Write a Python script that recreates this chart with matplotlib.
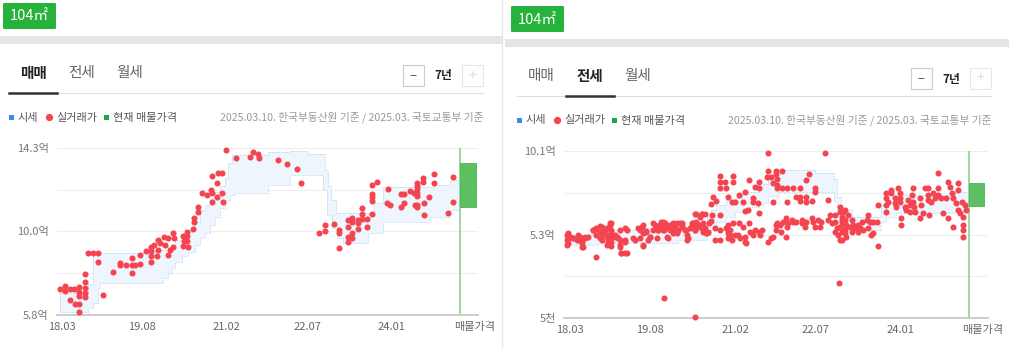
import matplotlib.pyplot as plt
from matplotlib.patches import Rectangle, FancyBboxPatch
from matplotlib.lines import Line2D

plt.rcParams['font.family'] = ['Noto Sans CJK KR', 'DejaVu Sans']

# ---- data (x = months after 2018.03, values in 억) ----
tick_months = [0, 17, 35, 52, 70]
tick_labels = ['18.03', '19.08', '21.02', '22.07', '24.01']
listing_month = 84.5

# 매매
sale_levels = [5.8, 7.925, 10.05, 12.175, 14.3]
sale_level_labels = ['5.8억', '', '10.0억', '', '14.3억']
sale_band_m = [-0.4, 5.5, 6.6, 7.6, 8.1, 19.7, 21.4, 21.8, 22.5, 23.3, 24.0, 25.5, 26.7, 28.2,
               29.3, 30.3, 31.4, 32.5, 33.5, 34.6, 35.2, 35.6, 36.1, 36.7, 43.7, 48.4, 52.2,
               55.4, 55.8, 56.2, 56.4, 57.1, 57.3, 58.1, 58.3, 59.6, 64.9, 66.2, 68.1, 78.1,
               78.7, 82.3, 84.2]
sale_band_hi = [6.92, 7.38, 8.96, 8.96, 8.96, 9.11, 9.11, 9.26, 9.26, 9.26, 9.62, 9.82, 10.13,
                10.53, 11.14, 11.40, 11.75, 12.06, 12.36, 12.77, 13.54, 13.54, 13.94, 13.94,
                14.10, 14.16, 13.99, 13.99, 13.18, 13.18, 12.36, 11.65, 11.65, 10.99, 10.99,
                10.99, 10.99, 11.50, 12.31, 12.31, 12.42, 12.67, 12.67]
sale_band_lo = [5.97, 6.16, 6.41, 7.17, 7.44, 7.44, 7.68, 7.68, 7.94, 8.19, 8.50, 8.80, 9.01,
                9.36, 9.72, 9.97, 10.38, 10.79, 11.25, 11.65, 11.65, 11.91, 11.91, 11.99,
                12.42, 12.92, 12.92, 12.16, 12.16, 10.89, 10.89, 10.89, 10.23, 10.23, 9.72,
                9.46, 9.97, 9.97, 10.53, 10.79, 10.79, 11.14, 11.14]
sale_deal_m = [-0.4, 0.6, 0.6, 1.7, 2.5, 3.6, 3.6, 3.6, 4.9, 4.9, 4.9, 4.9, 4.9, 1.7, 2.8, 3.7,
               3.6, 5.6, 6.6, 7.7, 7.7, 8.6, 10.8, 12.4, 12.4, 13.6, 14.8, 14.8, 14.8, 15.5,
               16.5, 16.5, 17.8, 18.8, 18.8, 18.8, 18.8, 19.5, 20.1, 20.4, 20.4, 20.8, 21.6,
               21.8, 22.5, 22.5, 22.9, 23.6, 23.5, 23.8, 25.7, 25.9, 25.7, 26.5, 26.6, 26.6,
               26.8, 27.7, 27.9, 27.9, 28.8, 28.8, 29.8, 30.7, 31.6, 31.8, 31.8, 32.8, 32.9,
               33.2, 33.9, 31.8, 33.9, 34.1, 34.8, 36.9, 39.9, 40.6, 41.6, 41.8, 45.8, 47.8,
               49.8, 50.8, 54.6, 55.8, 55.8, 57.8, 58.8, 58.8, 58.8, 60.7, 60.7, 60.7, 60.7,
               61.6, 61.6, 61.6, 61.6, 62.7, 62.7, 62.7, 63.7, 63.7, 63.7, 64.8, 64.8, 65.7,
               65.7, 65.7, 65.7, 65.7, 66.8, 69.1, 68.9, 69.6, 71.9, 72.6, 71.9, 72.6, 73.8,
               74.7, 75.4, 75.4, 75.4, 75.4, 75.4, 75.4, 75.4, 74.9, 76.6, 76.6, 76.9, 76.9,
               77.9, 79.0, 79.0, 81.9, 83.0, 83.0]
sale_deal_v = [7.14, 7.28, 7.01, 7.14, 7.14, 7.21, 6.97, 6.77, 7.17, 6.93, 6.73, 7.48, 7.89,
               6.56, 6.36, 6.36, 5.97, 8.94, 8.97, 8.97, 8.50, 6.82, 8.00, 8.46, 8.34, 8.34,
               8.68, 8.34, 7.95, 8.34, 8.40, 8.85, 9.07, 9.28, 9.07, 8.80, 8.48, 9.36, 8.80,
               9.62, 9.11, 9.45, 9.78, 9.36, 9.70, 8.85, 9.11, 9.25, 9.96, 9.70, 9.82, 9.58,
               9.31, 10.04, 9.82, 9.58, 9.28, 10.16, 10.72, 10.55, 11.28, 11.06, 11.99, 11.91,
               12.16, 11.99, 11.57, 11.82, 12.50, 13.01, 13.04, 12.87, 11.99, 11.57, 14.20,
               13.77, 13.83, 14.08, 13.99, 13.77, 13.69, 13.48, 13.23, 12.50, 9.99, 10.38,
               10.09, 10.43, 10.13, 9.96, 9.19, 10.63, 10.29, 9.78, 9.53, 10.72, 10.55, 9.99,
               9.70, 10.63, 10.47, 10.16, 11.23, 10.94, 10.67, 10.67, 10.29, 12.42, 11.96,
               11.79, 11.62, 10.94, 12.58, 12.20, 11.48, 11.38, 11.96, 11.96, 11.31, 11.48,
               12.13, 11.99, 12.53, 12.36, 12.20, 12.02, 11.86, 11.40, 11.31, 11.40, 12.76,
               12.58, 11.48, 10.89, 11.82, 13.00, 12.50, 11.01, 12.84, 11.53]
sale_listing = (11.30, 13.54)

# 전세
rent_levels = [0.5, 2.9, 5.3, 7.7, 10.1]
rent_level_labels = ['5천', '', '5.3억', '', '10.1억']
rent_band_m = [-0.5, 4, 6, 16, 23, 27, 29, 30, 31, 33, 35, 36.5, 38, 40, 41, 42, 44, 52, 56,
               56.5, 57.5, 59.7, 66, 67, 69, 81.6, 84.2]
rent_band_hi = [5.14, 5.35, 5.56, 5.65, 5.65, 5.84, 6.3, 6.7, 7.0, 7.28, 7.4, 7.6, 7.75, 7.94,
                8.2, 8.7, 8.99, 8.80, 8.5, 7.47, 6.7, 6.28, 7.0, 7.18, 7.56, 7.75, 7.75]
rent_band_lo = [4.70, 4.70, 4.79, 4.79, 4.98, 4.98, 5.3, 5.6, 6.0, 6.3, 6.6, 6.7, 6.85, 6.99,
                7.1, 7.5, 7.75, 7.75, 7.2, 6.5, 5.94, 5.56, 6.03, 6.32, 6.51, 6.70, 6.70]
rent_deal_m = [
    -0.5, -0.5, -0.5, 0, 0.7, 1.4, 2.1, 2.5, 3.2, 2.8, 3.9, 4.9, 5.6, 5.6, 6.4, 6.7, 6.7, 6.7,
    7.4, 7.8, 8.1, 8.5, 8.7, 8.8, 9.5, 10.2, 10.6, 10.6, 10.8, 11.7, 11.7, 12.0, 14.8, 15.2,
    15.5, 15.5, 16.2, 16.6, 16.9, 17.7, 18.0, 18.7, 19.1, 19.4, 19.8, 19.8, 20.1, 20.5, 20.8,
    21.2, 21.9, 22.2, 22.6, 23.0, 23.3, 23.7, 24.4, 24.9, 24.9, 25.4, 25.8, 26.1, 26.6, 26.6,
    27.2, 27.9, 27.9, 28.2, 28.6, 29.0, 29.3, 29.4, 20.0, 26.6,
    -0.6, -0.6, -0.6, 0, 0.7, 1.8, 1.8, 2.5, 2.5, 3.2, 4.9, 5.6, 5.6, 6.4, 6.4, 6.7, 7.8, 7.8,
    8.1, 8.5, 8.8, 8.8, 8.8, 8.8, 9.5, 9.9, 10.6, 10.6, 10.9, 11.7, 11.7, 12.0, 13.4, 13.8,
    14.5, 14.8, 15.4, 15.5, 16.2, 16.9, 17.7, 18.4, 18.7, 19.1, 19.8, 19.9, 20.5, 20.8, 21.2,
    21.9, 21.9, 22.6, 23.0, 23.7, 23.7, 24.7, 25.1, 25.8, 26.1, 26.5, 26.8, 26.8, 27.5, 27.9,
    28.2,
    31.8, 31.9, 32.8, 34.6, 34.6, 33.0, 31.9, 38.0, 39.2, 40.1, 40.1, 41.7, 42.0, 42.0, 42.7,
    43.1, 43.6, 43.6, 43.9, 43.9, 43.9, 45.0, 45.0, 46.0, 47.2, 48.7, 50.0, 50.7, 51.9, 51.9,
    54.0, 54.7,
    30.4, 30.9, 30.0, 28.6, 27.5, 30.2, 31.9, 33.5, 34.3, 35.0, 35.9, 36.7, 37.1, 37.1, 37.8,
    38.8, 38.9, 39.9, 40.1, 43.1, 46.0, 48.0, 48.7, 50.0, 48.7, 50.0, 51.2,
    27.5, 28.2, 28.8, 30.0, 30.7, 30.7, 31.8, 31.9, 33.0, 33.5, 33.5, 33.5, 33.5, 33.9, 34.0,
    34.3, 34.6, 35.0, 35.7, 35.9, 36.0, 36.7, 37.1, 37.1, 37.4, 38.0, 38.1, 38.8, 39.2, 40.1,
    40.3, 40.8, 42.0, 42.7, 43.1, 43.6, 43.6, 43.9, 44.5, 44.8, 45.2, 45.9, 45.9, 46.0, 46.3,
    47.0, 47.3, 48.0, 49.1, 49.1, 49.8, 50.1, 51.2, 51.5, 51.9, 52.6, 52.9, 53.3, 54.7, 55.1,
    55.6, 56.1, 56.1, 56.1, 56.5, 56.8, 57.2, 57.2, 57.6, 57.9, 57.9, 57.9, 58.3, 57.1,
    57.2, 57.2, 57.6, 57.6, 57.2, 57.6, 57.6, 58.3, 58.3, 58.3, 58.6, 58.6, 59.0, 59.3, 59.7,
    59.7, 60.0, 60.4, 61.1, 61.1, 61.4, 61.8, 62.1, 62.9, 63.2, 63.2, 63.6, 64.3, 64.3, 63.9,
    65.0, 65.3, 65.3,
    66.9, 66.9, 66.9, 66.9, 67.4, 68.1, 68.1, 68.9, 68.9, 69.2, 69.6, 69.9, 69.9, 69.9, 70.1,
    70.1, 71.0, 71.3, 71.7, 72.0, 72.0, 72.4, 72.7, 72.7, 72.9, 73.1, 74.1, 74.1, 74.5, 74.9,
    75.2, 75.9, 75.9, 75.9, 76.1, 76.6, 77.0, 77.3, 78.0, 78.0, 78.0, 78.7, 79.1, 79.8, 80.1,
    80.1, 80.5, 80.9, 81.2, 81.2, 81.9, 82.3, 82.3, 82.3, 82.6, 83.0, 83.2, 83.3, 83.3, 83.3,
    83.7, 84.0]
rent_deal_v = [
    5.37, 5.08, 4.79, 5.18, 5.08, 4.98, 5.18, 4.79, 5.08, 4.60, 5.18, 5.56, 5.59, 3.99, 5.08,
    5.75, 5.37, 5.08, 5.56, 4.70, 5.08, 5.84, 5.94, 5.56, 5.27, 5.08, 5.56, 4.70, 4.22, 4.22,
    4.98, 5.56, 5.56, 5.75, 5.37, 4.70, 5.46, 4.98, 5.18, 5.56, 5.84, 5.56, 5.84, 6.03, 5.84,
    5.56, 5.94, 5.18, 5.75, 5.56, 5.37, 5.75, 5.94, 5.56, 5.94, 5.84, 5.56, 4.98, 5.27, 5.65,
    5.84, 5.94, 6.47, 5.56, 5.84, 5.84, 6.47, 5.56, 5.65, 5.37, 5.46, 5.94, 1.64, 0.56,
    5.27, 4.98, 4.70, 5.14, 5.08, 5.27, 4.98, 4.98, 4.60, 5.14, 5.56, 5.65, 5.27, 5.79, 5.46,
    4.98, 5.65, 5.27, 4.89, 5.94, 5.46, 5.18, 4.89, 4.64, 5.14, 5.18, 4.98, 4.60, 4.22, 5.65,
    4.89, 4.22, 5.08, 4.98, 5.65, 5.08, 5.84, 4.64, 5.52, 5.18, 5.94, 5.08, 5.56, 5.84, 6.03,
    5.56, 5.75, 5.08, 5.84, 5.65, 5.94, 5.40, 5.56, 5.94, 5.71, 5.56, 5.08, 5.98, 5.71, 5.56,
    6.03, 6.47, 5.71, 6.47, 5.46,
    8.65, 8.32, 8.32, 8.65, 8.32, 7.94, 7.94, 8.42, 8.04, 8.32, 7.94, 8.57, 8.96, 9.95, 8.57,
    8.27, 8.96, 8.76, 8.46, 8.13, 7.94, 8.96, 7.94, 7.94, 7.94, 7.94, 8.42, 8.76, 7.94, 7.75,
    9.95, 7.27,
    7.42, 7.23, 7.04, 6.47, 6.32, 6.42, 6.42, 7.42, 7.18, 7.18, 7.56, 7.18, 7.75, 6.66, 6.70,
    7.18, 7.37, 7.08, 6.55, 7.18, 7.18, 7.46, 7.46, 7.46, 7.23, 7.16, 7.23,
    5.84, 5.94, 5.40, 6.09, 5.65, 4.98, 4.98, 5.56, 5.65, 5.84, 5.56, 5.37, 5.08, 5.56, 5.27,
    4.98, 5.94, 5.27, 5.27, 5.94, 5.08, 5.75, 4.89, 5.18, 4.79, 5.94, 5.46, 5.27, 5.56, 5.46,
    5.27, 5.56, 4.89, 5.08, 5.18, 5.56, 5.84, 5.94, 5.84, 5.46, 6.03, 6.23, 5.18, 5.71, 5.94,
    6.13, 6.03, 6.03, 5.94, 6.13, 5.75, 6.03, 6.23, 6.03, 5.75, 6.13, 5.71, 6.03, 6.13, 6.42,
    5.94, 6.42, 6.03, 5.46, 5.65, 5.27, 4.98, 5.75, 6.13, 6.61, 5.94, 5.56, 5.37, 2.54,
    6.89, 6.61, 6.32, 6.03, 5.71, 5.46, 4.98, 6.70, 6.13, 5.56, 5.84, 5.18, 6.42, 5.75, 6.13,
    5.46, 5.84, 5.65, 5.84, 5.46, 5.65, 6.03, 5.56, 6.13, 6.42, 5.65, 6.03, 6.03, 5.37, 5.27,
    6.03, 6.99, 4.64,
    7.66, 7.37, 6.99, 6.61, 7.18, 7.66, 7.85, 7.37, 7.08, 6.89, 7.94, 7.66, 7.37, 7.18, 6.23,
    5.84, 6.89, 6.70, 7.27, 6.99, 6.61, 7.56, 7.94, 7.18, 6.89, 6.61, 7.37, 6.23, 6.99, 6.51,
    7.94, 7.94, 7.56, 7.27, 6.42, 7.18, 7.66, 7.37, 8.80, 7.94, 7.56, 7.37, 6.51, 7.37, 8.32,
    6.23, 8.04, 7.66, 7.37, 5.75, 7.08, 8.23, 7.85, 6.70, 6.51, 7.18, 6.32, 5.84, 5.56, 5.18,
    6.99, 6.70]
rent_listing = (6.93, 8.27)

W, H = 1009, 348
fig = plt.figure(figsize=(W / 100, H / 100), dpi=100)


def fx(x):
    return x / W


def fy(y):
    return 1 - y / H


def text(x, y, s, **kw):
    fig.text(fx(x), fy(y), s, **kw)


def rect(x, y, w, h, **kw):
    fig.add_artist(Rectangle((fx(x), fy(y + h)), w / W, h / H,
                             transform=fig.transFigure, **kw))


def line(xs, ys, **kw):
    fig.add_artist(Line2D([fx(v) for v in xs], [fy(v) for v in ys],
                          transform=fig.transFigure, **kw))


def header(ox, oy, active):
    # badge
    fig.add_artist(FancyBboxPatch((fx(ox + 3), fy(oy + 29)), 53 / W, 26 / H,
                                  boxstyle='round,pad=0,rounding_size=0.002',
                                  transform=fig.transFigure, fc='#27b23b', ec='none'))
    text(ox + 29.5, oy + 16.5, '104㎡', color='white', fontsize=10.5,
         ha='center', va='center')
    rect(ox - 3, oy + 36, 505, 8, fc='#e4e5e7', ec='none')
    # tabs
    for i, t in enumerate(['매매', '전세', '월세']):
        on = (t == active)
        text(ox + 33 + 48.5 * i, oy + 73, t, fontsize=10.5, ha='center', va='center',
             color='#222222' if on else '#666666', fontweight='bold' if on else 'normal')
    line([ox + 9, ox + 483], [oy + 93, oy + 93], color='#dddddd', lw=0.8)
    k = ['매매', '전세', '월세'].index(active)
    line([ox + 9 + 48.5 * k, ox + 57 + 48.5 * k], [oy + 93, oy + 93], color='#333333', lw=1.8)
    # period control
    rect(ox + 403, oy + 65, 21, 21, fc='white', ec='#cccccc', lw=0.8)
    text(ox + 413.5, oy + 75.5, '−', fontsize=9, ha='center', va='center', color='#444444')
    text(ox + 443, oy + 76, '7년', fontsize=8.5, ha='center', va='center',
         color='#222222', fontweight='bold')
    rect(ox + 462, oy + 65, 21, 21, fc='white', ec='#e6e6e6', lw=0.8)
    text(ox + 472.5, oy + 75.5, '+', fontsize=10, ha='center', va='center', color='#dddddd')
    # legend row
    rect(ox + 9, oy + 115, 4.5, 4.5, fc='#3c8be9', ec='none')
    text(ox + 18, oy + 117.5, '시세', fontsize=8, va='center', color='#555555')
    fig.add_artist(Line2D([fx(ox + 49)], [fy(oy + 116.5)], marker='o', ms=4.2, color='#f4444f',
                          transform=fig.transFigure, lw=0))
    text(ox + 56, oy + 117.5, '실거래가', fontsize=8, va='center', color='#555555')
    rect(ox + 104, oy + 115, 4.5, 4.5, fc='#20a83a', ec='none')
    text(ox + 113, oy + 117.5, '현재 매물가격', fontsize=8, va='center', color='#555555')
    text(ox + 483, oy + 117.5, '2025.03.10. 한국부동산원 기준 / 2025.03. 국토교통부 기준',
         fontsize=7.7, ha='right', va='center', color='#999999')


def chart(box, xlim, levels, level_labels, band_m, band_hi, band_lo,
          deal_m, deal_v, listing):
    x0, y0, x1, y1 = box
    ax = fig.add_axes([fx(x0), fy(y1), (x1 - x0) / W, (y1 - y0) / H])
    ax.set_xlim(*xlim)
    ax.set_ylim(levels[0], levels[-1])
    for v in levels[1:]:
        ax.axhline(v, color='#eeeeee', lw=0.8, zorder=0)
    ax.fill_between(band_m, band_lo, band_hi, step='post', color='#eef5fd', lw=0, zorder=1)
    for edge in (band_hi, band_lo):
        ax.step(band_m, edge, where='post', color='#b7d5f4', lw=0.7, ls=(0, (1, 1)), zorder=2)
    ax.plot([band_m[0], band_m[0]], [band_lo[0], band_hi[0]], color='#b7d5f4', lw=0.7,
            ls=(0, (1, 1)), zorder=2)
    ax.scatter(deal_m, deal_v, s=19, color='#f4444f', lw=0, zorder=3, clip_on=False)
    ax.axvline(listing_month, color='#7fcf82', lw=1.1, zorder=2)
    ax.add_patch(Rectangle((listing_month, listing[0]), 3.3, listing[1] - listing[0],
                           fc='#5ec063', ec='#4fb255', lw=0.6, zorder=4))
    ax.set_yticks(levels)
    ax.set_yticklabels(level_labels)
    ax.set_xticks(tick_months + [87.5])
    ax.set_xticklabels(tick_labels + ['매물가격'])
    ax.tick_params(axis='y', length=0, pad=6, labelsize=8, labelcolor='#777777')
    ax.tick_params(axis='x', length=0, pad=5, labelsize=8, labelcolor='#666666')
    for s in ['top', 'right', 'left']:
        ax.spines[s].set_visible(False)
    ax.spines['bottom'].set_color('#cccccc')
    ax.spines['bottom'].set_linewidth(1.4)
    ax.patch.set_alpha(0)
    return ax


header(0, 0, '매매')
header(508, 3, '전세')
line([502, 502], [0, 348], color='#e6e6e6', lw=1)

chart((57, 148, 478, 315), (-1.06, 88.25), sale_levels, sale_level_labels,
      sale_band_m, sale_band_hi, sale_band_lo, sale_deal_m, sale_deal_v, sale_listing)
chart((564, 150.7, 988, 318.3), (-1.25, 88.6), rent_levels, rent_level_labels,
      rent_band_m, rent_band_hi, rent_band_lo, rent_deal_m, rent_deal_v, rent_listing)

fig.savefig('out.png', dpi=100)
